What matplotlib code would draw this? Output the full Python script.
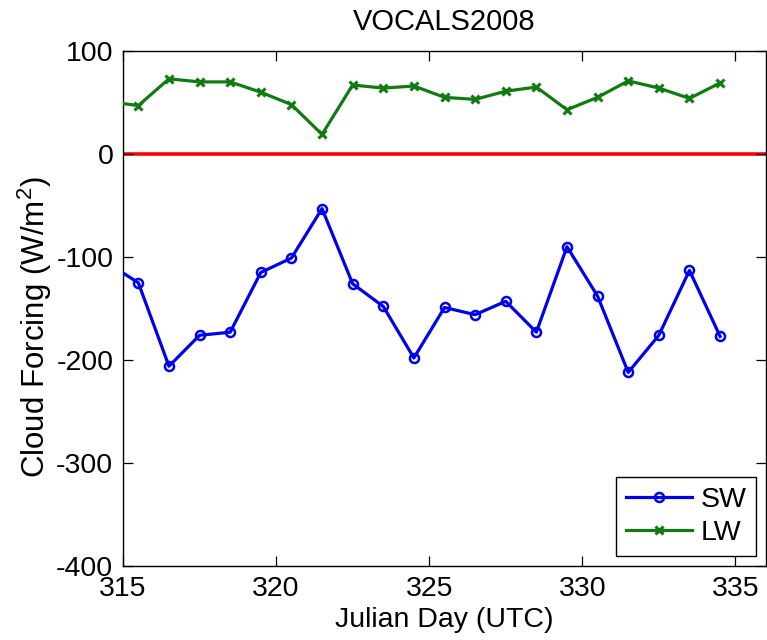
import matplotlib
matplotlib.use("Agg")
import matplotlib.pyplot as plt

plt.rcParams['font.family'] = ['Liberation Sans', 'DejaVu Sans']
plt.rcParams['axes.unicode_minus'] = False
plt.rcParams['mathtext.default'] = 'regular'

days = [314.5, 315.5, 316.5, 317.5, 318.5, 319.5, 320.5, 321.5, 322.5, 323.5, 324.5,
        325.5, 326.5, 327.5, 328.5, 329.5, 330.5, 331.5, 332.5, 333.5, 334.5]
sw = [-106, -125, -206, -176, -173, -115, -101, -53, -126, -148, -198,
      -149, -156, -143, -173, -90, -138, -212, -176, -113, -177]
lw = [51, 47, 73, 70, 70, 60, 48, 19, 67, 64, 66,
      55, 53, 61, 65, 43, 55, 71, 64, 54, 69]
xticks = [315, 320, 325, 330, 335]
yticks = [-400, -300, -200, -100, 0, 100]

fig = plt.figure(figsize=(7.67, 6.4), dpi=100)
ax = fig.add_axes([0.1604, 0.1156, 0.8383, 0.8047])

ax.axhline(0, color='red', lw=2.6, zorder=1)
ax.plot(days, sw, color='#0000ee', lw=2.3, marker='o', ms=6.5, mfc='none',
        mec='#0000ee', mew=1.8, label='SW', zorder=3)
ax.plot(days, lw, color='#117a11', lw=2.3, marker='x', ms=6, mec='#117a11',
        mew=2.2, label='LW', zorder=3)

ax.set_xlim(315, 336)
ax.set_ylim(-400, 100)
ax.set_xticks(xticks)
ax.set_yticks(yticks)
ax.tick_params(direction='in', length=7, width=0.9, labelsize=20.5,
               top=True, right=True, pad=7, colors='black')
for s in ax.spines.values():
    s.set_linewidth(1.0)
    s.set_color('black')

ax.set_title('VOCALS2008', fontsize=21, pad=15)
ax.set_xlabel('Julian Day (UTC)', fontsize=20.5, labelpad=4)
ax.set_ylabel('Cloud Forcing (W/m$^2$)', fontsize=22.5)
ax.yaxis.set_label_coords(-0.108, 0.464)

leg = ax.legend(loc='lower right', fontsize=20.5, frameon=True, fancybox=False,
                edgecolor='black', framealpha=1, handlelength=2.3, numpoints=1,
                borderaxespad=0.35, borderpad=0.35, labelspacing=0.25,
                handletextpad=0.3)
leg.get_frame().set_linewidth(1.0)

fig.savefig('out.png', dpi=100)
